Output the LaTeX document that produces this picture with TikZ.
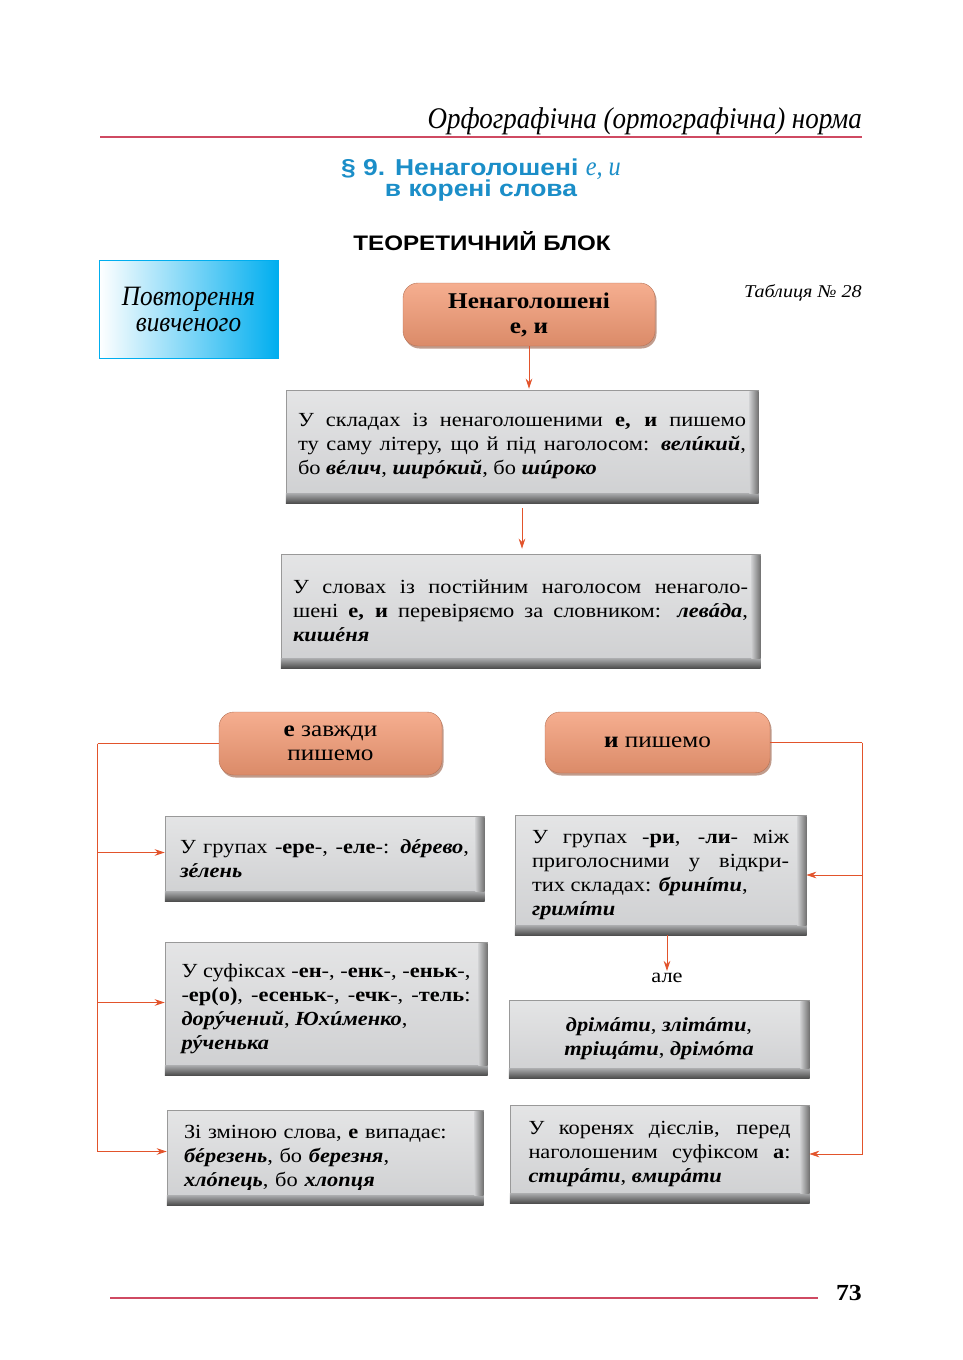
\documentclass[tikz,border=0pt]{standalone}
\usepackage{fontspec}
\setmainfont{Liberation Serif}[FakeStretch=1.12]
\newfontfamily\widesans[FakeStretch=1.15]{Liberation Sans}
\newfontfamily\headital[FakeStretch=0.9]{Liberation Serif}
\usetikzlibrary{arrows.meta,shadows}

\definecolor{ornge}{HTML}{F39A74}
\definecolor{orngedark}{HTML}{8E4A2E}
\definecolor{arrred}{HTML}{E2532B}
\definecolor{rulered}{HTML}{CF4A62}
\definecolor{titleblue}{HTML}{1B8EC8}
\definecolor{cyanbox}{HTML}{00AEEF}
\definecolor{boxgray}{HTML}{C9CACC}

\newcommand\ex[1]{\textbf{\textit{#1}}}
\newcommand\ac[1]{\accent"B4 #1}
\tolerance=9999
\hyphenpenalty=10000
\exhyphenpenalty=10000

\begin{document}
\begin{tikzpicture}[x=1pt,y=-1pt]
        \tikzstyle{every node}=[inner sep=0pt]
        \tikzstyle{greybox}=[rectangle, draw=black!40, line width=0.5pt, top color=boxgray!50!white, bottom color=boxgray!90!white, inner xsep=12pt, align=justify, font=\fontsize{20}{24}\selectfont]
        \tikzstyle{pill}=[rectangle, rounded corners=15pt, top color=ornge!80!white, bottom color=ornge!90!black, draw=ornge!75!black, line width=0.4pt, drop shadow={shadow xshift=1.5pt, shadow yshift=-2.5pt, fill=orngedark, opacity=.55}, align=center, font=\fontsize{22.5}{24}\selectfont]
        \tikzstyle{arr}=[draw=arrred, line width=0.8pt, -{Stealth[length=10pt,width=6.5pt]}]
        \tikzstyle{conn}=[draw=arrred, line width=0.8pt]
        \useasboundingbox (0,0) rectangle (963,1360);

        % page head
        \node[anchor=base east, font=\headital\itshape\fontsize{30}{30}\selectfont] (hdr) at (862,128) {Орфографічна (ортографічна) норма};
        \draw[rulered, line width=1.6pt] (100,137) -- (862,137);
        \node[align=center, text=titleblue, font=\widesans\bfseries\fontsize{23}{20}\selectfont] (title) at (481,180) {§ 9. Ненаголошені {\headital\mdseries\itshape\fontsize{27}{20}\selectfont е, и}\\в корені слова};
        \node[font=\widesans\bfseries\fontsize{21}{24}\selectfont] (blok) at (482,241) {ТЕОРЕТИЧНИЙ БЛОК};
        \node[rectangle, draw=cyanbox, line width=0.8pt, left color=white, right color=cyanbox, minimum width=179pt, minimum height=98pt, align=center, font=\headital\itshape\fontsize{28}{26}\selectfont] (rep) at (188.5,309) {Повторення\\вивченого};
        \node[anchor=base east, font=\itshape\fontsize{18}{20}\selectfont] (tab) at (862,297) {Таблиця № 28};

        % main column
        \node[pill, minimum width=252pt, minimum height=63pt, font=\bfseries\fontsize{22.5}{25}\selectfont] (top) at (529,314.5) {Ненаголошені\\е, и};
        \node[greybox, minimum width=472pt, minimum height=113pt, text width=448pt] (b1) at (522,446.5) {%
            У складах із ненаголошеними \textbf{е, и} пишемо\break
            ту саму літеру, що й під наголосом: \ex{вел\ac{и}кий},\break
            бо \ex{в\ac{е}лич}, \ex{шир\ac{о}кий}, бо \ex{ш\ac{и}роко}};
        \node[greybox, minimum width=479pt, minimum height=114pt, text width=455pt] (b2) at (520.5,611) {%
            У словах із постійним наголосом ненаголо-\break
            шені \textbf{е, и} перевіряємо за словником: \ex{лев\ac{а}да},\break
            \ex{киш\ac{е}ня}};

        % two branches
        \node[pill, minimum width=223pt, minimum height=63pt] (ezav) at (330.5,743.5) {\textbf{е} завжди\\пишемо};
        \node[pill, minimum width=225pt, minimum height=61pt] (ypys) at (657.5,742.5) {\textbf{и} пишемо};

        \node[greybox, minimum width=319pt, minimum height=85pt, text width=289pt] (l1) at (324.5,858.5) {%
            У групах -\textbf{ере}-, -\textbf{еле}-: \ex{д\ac{е}рево},\break
            \ex{з\ac{е}лень}};
        \node[greybox, minimum width=322pt, minimum height=133pt, text width=289pt] (l2) at (326,1008.5) {%
            У суфіксах -\textbf{ен}-, -\textbf{енк}-, -\textbf{еньк}-,\break
            -\textbf{ер(о)}, -\textbf{есеньк}-, -\textbf{ечк}-, -\textbf{тель}:\break
            \ex{дор\ac{у}чений}, \ex{Юх\ac{и}менко},\newline
            \ex{р\ac{у}ченька}};
        \node[greybox, minimum width=316pt, minimum height=95pt, text width=282pt, align=left] (l3) at (325,1157.5) {%
            Зі зміною слова, \textbf{е} випадає:\\
            \ex{б\ac{е}резень}, бо \ex{березня},\\
            \ex{хл\ac{о}пець}, бо \ex{хлопця}};

        \node[greybox, minimum width=291pt, minimum height=120pt, text width=257pt] (r1) at (660.5,875) {%
            У групах -\textbf{ри}, -\textbf{ли}- між\break
            приголосними у відкри-\break
            тих складах: \ex{бринíти},\newline
            \ex{гримíти}};
        \node[font=\fontsize{20}{24}\selectfont] (ale) at (667,978) {але};
        \node[greybox, minimum width=300pt, minimum height=78pt, align=center] (r2) at (659,1039) {%
            \ex{дрім\ac{а}ти}, \ex{зліт\ac{а}ти},\\
            \ex{тріщ\ac{а}ти}, \ex{дрім\ac{о}та}};
        \node[greybox, minimum width=299pt, minimum height=98pt, text width=262pt] (r3) at (659.5,1154) {%
            У коренях дієслів, перед\break
            наголошеним суфіксом \textbf{а}:\break
            \ex{стир\ac{а}ти}, \ex{вмир\ac{а}ти}};

        % bevel of the grey boxes
        \foreach \b in {b1,b2,l1,l2,l3,r1,r2,r3} {
            \shade[top color=boxgray!85!black, bottom color=black!70] ([yshift=10pt]\b.south west) rectangle (\b.south east);
            \shade[left color=boxgray!90!white, right color=black!55] ([xshift=-9pt,yshift=-2pt]\b.north east) rectangle ([yshift=10pt]\b.south east);
        }

        % connectors
        \draw[arr] (top.south) -- ([yshift=1pt]top.south |- b1.north);
        \draw[arr] ([yshift=-5pt]b1.south) -- ([yshift=5pt]b1.south |- b2.north);
        \draw[arr] (ale.north |- r1.south) -- ([yshift=2pt]ale.north);
        \draw[conn] (ezav.west) -- ++(-121,0) coordinate (lcor);
        \foreach \b in {l1,l2,l3}
            \draw[arr] (lcor) |- ([yshift=6pt]\b.west);
        \draw[conn] (ypys.east) -- ++(92,0) coordinate (rcor);
        \foreach \b in {r1,r3}
            \draw[arr] (rcor) |- (\b.east);

        % page foot
        \draw[rulered, line width=1.6pt] (110,1298) -- (818,1298);
        \node[anchor=base east, font=\bfseries\fontsize{23}{24}\selectfont] (pg) at (862,1300) {73};
\end{tikzpicture}
\end{document}
